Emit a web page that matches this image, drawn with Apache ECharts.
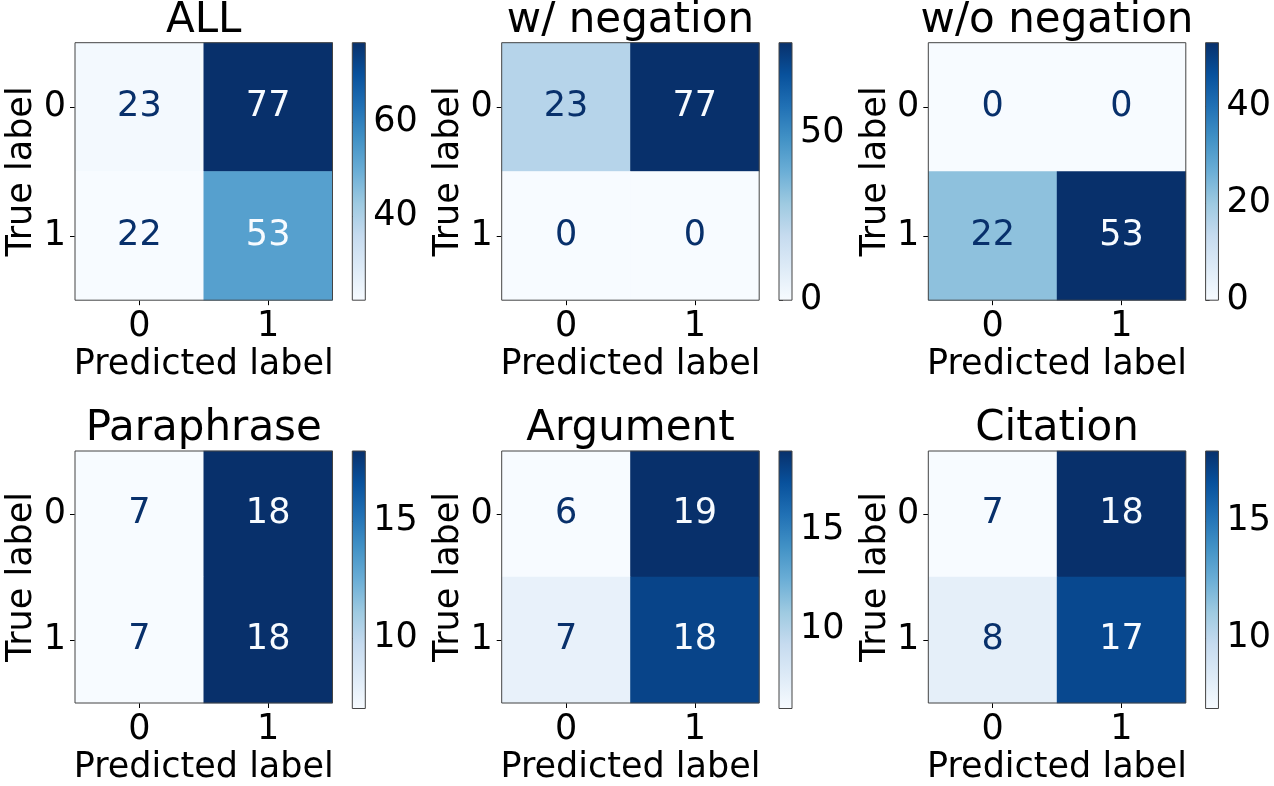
<!DOCTYPE html>
<html>
<head>
<meta charset="utf-8">
<script src="https://cdn.jsdelivr.net/npm/echarts@6/dist/echarts.min.js"></script>
<style>
html, body { margin: 0; padding: 0; background: #fff; }
#main { width: 1274px; height: 786px; }
</style>
</head>
<body>
<div id="main"></div>
<script>
// confusion matrices, rows = true label, cols = predicted label
const titles = ['ALL', 'w/ negation', 'w/o negation', 'Paraphrase', 'Argument', 'Citation'];
const classLabels = ['0', '1'];
const mAll = [[23, 77], [22, 53]];
const mWithNeg = [[23, 77], [0, 0]];
const mWithoutNeg = [[0, 0], [22, 53]];
const mParaphrase = [[7, 18], [7, 18]];
const mArgument = [[6, 19], [7, 18]];
const mCitation = [[7, 18], [8, 17]];
const matrices = [mAll, mWithNeg, mWithoutNeg, mParaphrase, mArgument, mCitation];
// colorbar tick labels
const cbTicks = [[40, 60], [0, 50], [0, 20, 40], [10, 15], [10, 15], [10, 15]];

// matplotlib "Blues"
const blues = ['#f7fbff', '#deebf7', '#c6dbef', '#9ecae1', '#6baed6', '#4292c6', '#2171b5', '#08519c', '#08306b'];

const FONT = 'DejaVu Sans';
const colLeft = [75, 501.7, 928.3];
const rowTop = [42.7, 451];
const plotSize = 257.5;
const cbOffset = 277.3;  // colorbar left relative to plot left
const cbWidth = 13;

const chart = echarts.init(document.getElementById('main'));

let grid = [], xAxis = [], yAxis = [], series = [], visualMap = [], title = [];

matrices.forEach((m, i) => {
    const col = i % 3, row = Math.floor(i / 3);
    const left = colLeft[col], top = rowTop[row];
    const flat = m.flat();
    const vmin = Math.min(...flat), vmax = Math.max(...flat);
    const thresh = (vmin + vmax) / 2;

    grid.push({
        left: left, top: top, width: plotSize, height: plotSize,
        show: true, z: 5, backgroundColor: 'transparent', borderColor: '#444', borderWidth: 1
    });
    xAxis.push({
        gridIndex: i, type: 'category', data: classLabels, position: 'bottom',
        axisLine: { show: false },
        axisTick: { show: true, length: 5, alignWithLabel: true, lineStyle: { color: '#000' } },
        axisLabel: { fontSize: 35, fontFamily: FONT, color: '#000', margin: 9 },
        splitLine: { show: false },
        name: 'Predicted label', nameLocation: 'middle', nameGap: 47,
        nameTextStyle: { fontSize: 35, fontFamily: FONT, color: '#000' }
    });
    yAxis.push({
        gridIndex: i, type: 'category', data: classLabels, inverse: true,
        axisLine: { show: false },
        axisTick: { show: true, length: 5, alignWithLabel: true, lineStyle: { color: '#000' } },
        axisLabel: { fontSize: 35, fontFamily: FONT, color: '#000', margin: 9 },
        splitLine: { show: false },
        name: 'True label', nameLocation: 'middle', nameGap: 35,
        nameTextStyle: { fontSize: 35, fontFamily: FONT, color: '#000' }
    });

    const data = [];
    m.forEach((r, ri) => r.forEach((v, ci) => {
        data.push({
            value: [ci, ri, v],
            label: { color: v < thresh ? blues[8] : blues[0] }
        });
    }));
    series.push({
        type: 'heatmap', xAxisIndex: i, yAxisIndex: i, data: data,
        label: { show: true, fontSize: 35, fontFamily: FONT },
        itemStyle: { borderWidth: 0 },
        emphasis: { disabled: true }
    });
    visualMap.push({
        type: 'continuous', show: false, seriesIndex: i, dimension: 2,
        min: vmin, max: vmax, inRange: { color: blues }
    });
    title.push({
        text: titles[i], left: left + plotSize / 2, top: top - 43, textAlign: 'center', padding: 0,
        textStyle: { fontSize: 42, fontFamily: FONT, fontWeight: 'normal', color: '#000' }
    });
});

// colorbars
matrices.forEach((m, i) => {
    const col = i % 3, row = Math.floor(i / 3);
    const flat = m.flat();
    const vmin = Math.min(...flat), vmax = Math.max(...flat);
    const gi = 6 + i;
    grid.push({ left: colLeft[col] + cbOffset, top: rowTop[row], width: cbWidth, height: plotSize });
    xAxis.push({ gridIndex: gi, type: 'value', min: 0, max: 1, show: false });
    yAxis.push({
        gridIndex: gi, type: 'value', min: vmin, max: vmax, position: 'right',
        axisLine: { show: false },
        axisTick: { show: true, length: 4, customValues: cbTicks[i], lineStyle: { color: '#000' } },
        axisLabel: { customValues: cbTicks[i], fontSize: 35, fontFamily: FONT, color: '#000', margin: 8 },
        splitLine: { show: false }
    });
    series.push({
        type: 'custom', xAxisIndex: gi, yAxisIndex: gi,
        data: [[0, vmin, vmax]], encode: { x: 0, y: [1, 2] },
        renderItem: (params, api) => {
            const cs = params.coordSys;
            const yTop = api.coord([0, api.value(2)])[1];
            const yBot = api.coord([0, api.value(1)])[1];
            const stops = blues.map((c, k) => ({ offset: k / (blues.length - 1), color: c }));
            return {
                type: 'rect',
                shape: { x: cs.x, y: yTop, width: cs.width, height: yBot - yTop },
                style: { fill: new echarts.graphic.LinearGradient(0, 1, 0, 0, stops), stroke: '#444', lineWidth: 1 }
            };
        }
    });
});

chart.setOption({
    animation: false,
    title: title,
    grid: grid,
    xAxis: xAxis,
    yAxis: yAxis,
    visualMap: visualMap,
    series: series
});
</script>
</body>
</html>
